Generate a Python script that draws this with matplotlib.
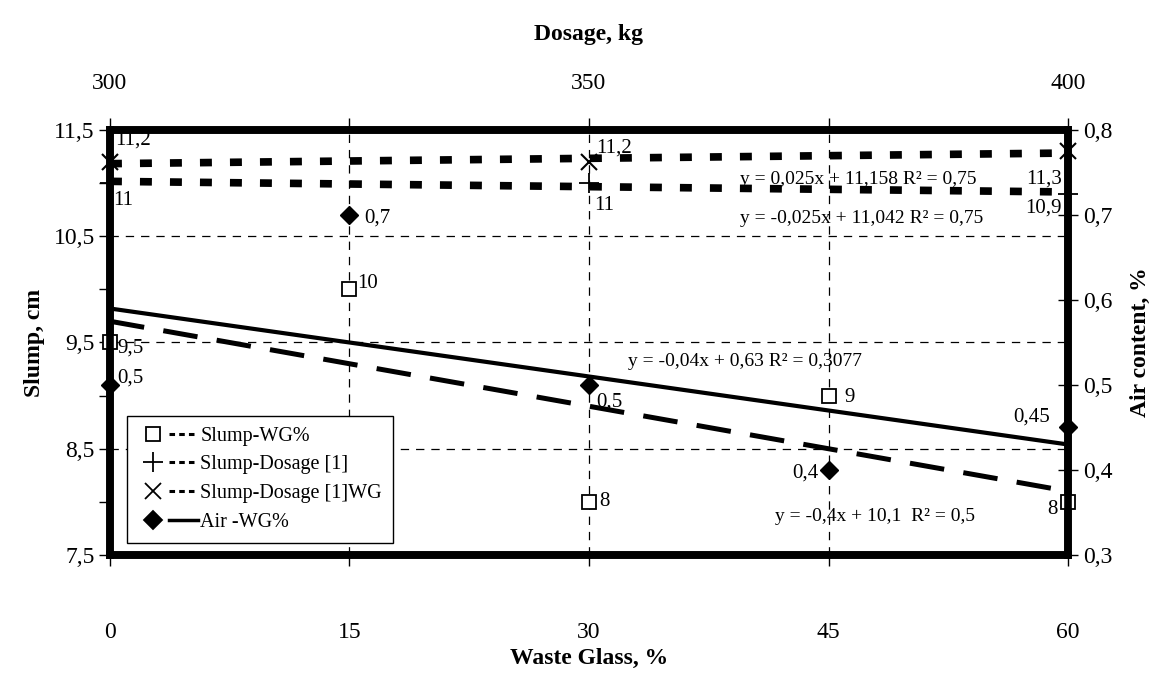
import numpy as np
import matplotlib
matplotlib.use("Agg")
import matplotlib.pyplot as plt
from matplotlib.lines import Line2D
from matplotlib.legend_handler import HandlerTuple

plt.rcParams['font.family'] = ['Liberation Serif', 'DejaVu Serif']
plt.rcParams['lines.scale_dashes'] = False

# ---- data ----
waste_glass = [0, 15, 30, 45, 60]
slump_wg = [9.5, 10, 8, 9, 8]
air_wg = [0.5, 0.7, 0.5, 0.4, 0.45]
dosage_wg = [0, 30, 60]          # positions of dosage 300, 350, 400 on WG axis
slump_dosage = [11, 11, 10.9]
slump_dosage_wg = [11.2, 11.2, 11.3]

x_ticks = [0, 15, 30, 45, 60]
x_ticklabels = ['0', '15', '30', '45', '60']
slump_ticks = [7.5, 8.5, 9.5, 10.5, 11.5]
slump_ticklabels = ['7,5', '8,5', '9,5', '10,5', '11,5']
air_ticks = [0.3, 0.4, 0.5, 0.6, 0.7, 0.8]
air_ticklabels = ['0,3', '0,4', '0,5', '0,6', '0,7', '0,8']
dosage_ticks = [300, 350, 400]
dosage_ticklabels = ['300', '350', '400']

lbl_slump_wg = ['9,5', '10', '8', '9', '8']
lbl_air_wg = ['0,5', '0,7', '0,5', '0,4', '0,45']
lbl_slump_dosage = ['11', '11', '10,9']
lbl_slump_dosage_wg = ['11,2', '11,2', '11,3']

eq_dosage_wg = 'y = 0,025x + 11,158 R² = 0,75'
eq_dosage = 'y = -0,025x + 11,042 R² = 0,75'
eq_air = 'y = -0,04x + 0,63 R² = 0,3077'
eq_slump = 'y = -0,4x + 10,1  R² = 0,5'

# ---- figure ----
fig = plt.figure(figsize=(11.55, 6.75), dpi=100)
ax = fig.add_axes([0.0952, 0.1778, 0.8295, 0.6296])
ax2 = ax.twinx()

ax.set_xlim(0, 60)
ax.set_ylim(7.5, 11.5)
ax2.set_ylim(0.3, 0.8)

K = 'black'
grid_ls = (0, (6, 5))
ax.set_xticks(x_ticks)
ax.set_xticklabels(x_ticklabels)
ax.set_yticks(slump_ticks)
ax.set_yticklabels(slump_ticklabels)
ax.set_yticks([8, 9, 10, 11], minor=True)
ax.grid(True, which='major', color=K, ls=grid_ls, lw=0.9)
ax.set_axisbelow(True)
ax.tick_params(axis='x', which='both', direction='out', length=8, pad=40,
               labelsize=17, width=1)
ax.tick_params(axis='y', which='both', direction='out', length=8, pad=3,
               labelsize=17, width=1)
ax2.set_yticks(air_ticks)
ax2.set_yticklabels(air_ticklabels)
ax2.tick_params(axis='y', direction='inout', length=14, pad=4, labelsize=17,
                width=1)

for a in (ax, ax2):
    for s in a.spines.values():
        s.set_linewidth(5.5)
        s.set_color(K)

# top axis: dosage
def wg2dos(x):
    return 300 + np.asarray(x) * 100.0 / 60.0

def dos2wg(d):
    return (np.asarray(d) - 300) * 60.0 / 100.0

sec = ax.secondary_xaxis('top', functions=(wg2dos, dos2wg))
sec.set_xticks(dosage_ticks)
sec.set_xticklabels(dosage_ticklabels)
sec.set_xticks([325, 375], minor=True)
sec.tick_params(axis='x', which='both', direction='out', length=9, pad=17,
                labelsize=17, width=1)
sec.spines['top'].set_visible(False)
sec.set_xlabel('Dosage, kg', fontsize=17, fontweight='bold', labelpad=24)

ax.set_xlabel('Waste Glass, %', fontsize=17, fontweight='bold', labelpad=4)
ax.set_ylabel('Slump, cm', fontsize=17, fontweight='bold', labelpad=6)
ax2.set_ylabel('Air content, %', fontsize=17, fontweight='bold', labelpad=12)

# ---- trend lines (Excel linear fits on category index) ----
xi_all = np.array(waste_glass) / 15.0 + 1
xi_dos = np.array(dosage_wg) / 15.0 + 1
xs = np.linspace(0, 60, 50)
xsi = xs / 15.0 + 1

p_slump = np.polyfit(xi_all, slump_wg, 1)
p_air = np.polyfit(xi_all, air_wg, 1)
p_dos = np.polyfit(xi_dos, slump_dosage, 1)
p_doswg = np.polyfit(xi_dos, slump_dosage_wg, 1)

ax.plot(xs, np.polyval(p_slump, xsi), color=K, lw=3.6,
        ls=(0, (25, 14)), zorder=3)
ax.plot(xs, np.polyval(p_dos, xsi), color=K, lw=5.5,
        ls=(0, (8.6, 13)), zorder=3)
ax.plot(xs, np.polyval(p_doswg, xsi), color=K, lw=5.5,
        ls=(0, (8.6, 13)), zorder=3)
ax2.plot(xs, np.polyval(p_air, xsi), color=K, lw=3.0, zorder=3)

# ---- markers ----
ax.plot(waste_glass, slump_wg, ls='none', marker='s', ms=10, mfc='white',
        mec=K, mew=1.3, clip_on=False, zorder=6)
ax.plot(dosage_wg, slump_dosage, ls='none', marker='+', ms=14, mec=K,
        mew=1.3, clip_on=False, zorder=6)
ax.plot(dosage_wg, slump_dosage_wg, ls='none', marker='x', ms=11, mec=K,
        mew=1.5, clip_on=False, zorder=6)
ax2.plot(waste_glass, air_wg, ls='none', marker='D', ms=9, mfc=K, mec=K,
         clip_on=False, zorder=6)

# ---- point labels ----
fs = 15
off_slump = [(7, -6, 'left'), (8, 6, 'left'), (10, 0, 'left'),
             (16, -2, 'left'), (-10, -8, 'right')]
off_air = [(7, 7, 'left'), (15, -3, 'left'), (7, -17, 'left'),
           (-10, -3, 'right'), (-18, 10, 'right')]
off_dos = [(3, -17, 'left'), (5, -22, 'left'), (-6, -14, 'right')]
off_doswg = [(5, 22, 'left'), (7, 14, 'left'), (-6, -28, 'right')]

for x, y, t, (dx, dy, ha) in zip(waste_glass, slump_wg, lbl_slump_wg, off_slump):
    ax.annotate(t, (x, y), xytext=(dx, dy), textcoords='offset pixels',
                ha=ha, va='center', fontsize=fs, zorder=7, annotation_clip=False)
for x, y, t, (dx, dy, ha) in zip(waste_glass, air_wg, lbl_air_wg, off_air):
    ax2.annotate(t, (x, y), xytext=(dx, dy), textcoords='offset pixels',
                 ha=ha, va='center', fontsize=fs, zorder=7, annotation_clip=False)
for x, y, t, (dx, dy, ha) in zip(dosage_wg, slump_dosage, lbl_slump_dosage, off_dos):
    ax.annotate(t, (x, y), xytext=(dx, dy), textcoords='offset pixels',
                ha=ha, va='center', fontsize=fs, zorder=7, annotation_clip=False)
for x, y, t, (dx, dy, ha) in zip(dosage_wg, slump_dosage_wg, lbl_slump_dosage_wg, off_doswg):
    ax.annotate(t, (x, y), xytext=(dx, dy), textcoords='offset pixels',
                ha=ha, va='center', fontsize=fs, zorder=7, annotation_clip=False)

# ---- trend equations ----
efs = 14
ax.text(39.46, 11.03, eq_dosage_wg, fontsize=efs, va='center', ha='left', zorder=7)
ax.text(39.46, 10.67, eq_dosage, fontsize=efs, va='center', ha='left', zorder=7)
ax.text(32.44, 9.32, eq_air, fontsize=efs, va='center', ha='left', zorder=7)
ax.text(41.65, 7.86, eq_slump, fontsize=efs, va='center', ha='left', zorder=7)

# ---- legend ----
def pair(marker, ls, mfc='white', ms=10, lw=2.2):
    m = Line2D([], [], ls='none', marker=marker, ms=ms, mfc=mfc, mec=K, mew=1.3)
    ln = Line2D([], [], color=K, lw=lw, ls=ls)
    return (m, ln)

handles = [pair('s', (0, (4, 3))),
           pair('+', (0, (4, 3)), ms=14),
           pair('x', (0, (4, 3)), ms=11),
           pair('D', '-', mfc=K, ms=9, lw=2.5)]
labels = ['Slump-WG%', 'Slump-Dosage [1]', 'Slump-Dosage [1]WG', 'Air -WG%']
leg = ax2.legend(handles, labels, handler_map={tuple: HandlerTuple(ndivide=None, pad=0.1)},
                 loc='lower left', bbox_to_anchor=(0.0177, 0.028),
                 borderaxespad=0, fontsize=14.5, handlelength=3.0,
                 handletextpad=0.1, labelspacing=0.48, fancybox=False,
                 framealpha=1, edgecolor=K, borderpad=0.55)
leg.get_frame().set_linewidth(1.0)
leg.set_zorder(10)

fig.savefig('out.png', dpi=100)
